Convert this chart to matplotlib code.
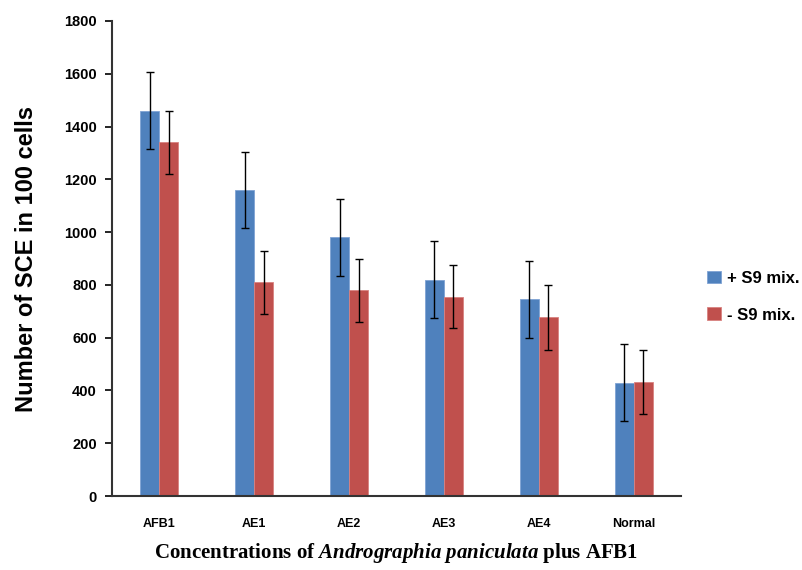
import matplotlib
matplotlib.use("Agg")
import matplotlib.pyplot as plt
import numpy as np

categories = ["AFB1", "AE1", "AE2", "AE3", "AE4", "Normal"]
plus_s9 = [1460, 1160, 980, 820, 745, 430]
plus_s9_err = [145, 145, 145, 145, 147, 145]
minus_s9 = [1340, 810, 780, 755, 677, 433]
minus_s9_err = [120, 120, 120, 120, 122, 122]
series_labels = ["+ S9 mix.", "- S9 mix."]
yticks = [0, 200, 400, 600, 800, 1000, 1200, 1400, 1600, 1800]

plt.rcParams['mathtext.fontset'] = 'custom'
plt.rcParams['mathtext.it'] = 'Liberation Serif:italic:bold'
plt.rcParams['mathtext.rm'] = 'Liberation Serif:bold'

fig = plt.figure(figsize=(8.02, 5.70), dpi=100)
ax = fig.add_axes([112/802, 74/570, 569/802, 475/570])

x = np.arange(len(categories))
w = 0.2
blue = "#4F81BD"
red = "#C0504D"
ax.bar(x - w/2, plus_s9, w, color=blue, edgecolor="#7FA3D4", linewidth=0.6, label=series_labels[0])
ax.bar(x + w/2, minus_s9, w, color=red, edgecolor="#D98280", linewidth=0.6, label=series_labels[1])
ax.errorbar(x - w/2, plus_s9, yerr=plus_s9_err, fmt='none', ecolor='black', elinewidth=1, capsize=3, capthick=1)
ax.errorbar(x + w/2, minus_s9, yerr=minus_s9_err, fmt='none', ecolor='black', elinewidth=1, capsize=3, capthick=1)

ax.set_xlim(-0.5, 5.5)
ax.set_ylim(0, 1800)
ax.set_yticks(yticks)
ax.set_yticklabels([str(v) for v in yticks], fontfamily='Liberation Sans', fontweight='bold', fontsize=10.5)
ax.set_xticks(x)
ax.set_xticklabels(categories, fontfamily='Liberation Sans', fontweight='bold', fontsize=9)
ax.tick_params(axis='x', length=0, pad=16)
ax.tick_params(axis='y', length=5, width=1.2, direction='out', pad=6)
for s in ['top', 'right']:
    ax.spines[s].set_visible(False)
for s in ['left', 'bottom']:
    ax.spines[s].set_linewidth(1.5)
    ax.spines[s].set_color('#333333')

ax.set_ylabel("Number of SCE in 100 cells", fontfamily='Liberation Sans', fontweight='bold', fontsize=17, labelpad=19)
ax.set_xlabel(r"Concentrations of $\mathit{Andrographia\ paniculata}$ plus AFB1",
              fontfamily='Liberation Serif', fontweight='bold', fontsize=15, labelpad=8)

leg = ax.legend(loc='center left', bbox_to_anchor=(1.02, 0.42), frameon=False,
                prop={'family': 'Liberation Sans', 'weight': 'bold', 'size': 12},
                handlelength=0.8, handleheight=0.8, handletextpad=0.4, labelspacing=1.3)

fig.savefig("out.png", dpi=100)
